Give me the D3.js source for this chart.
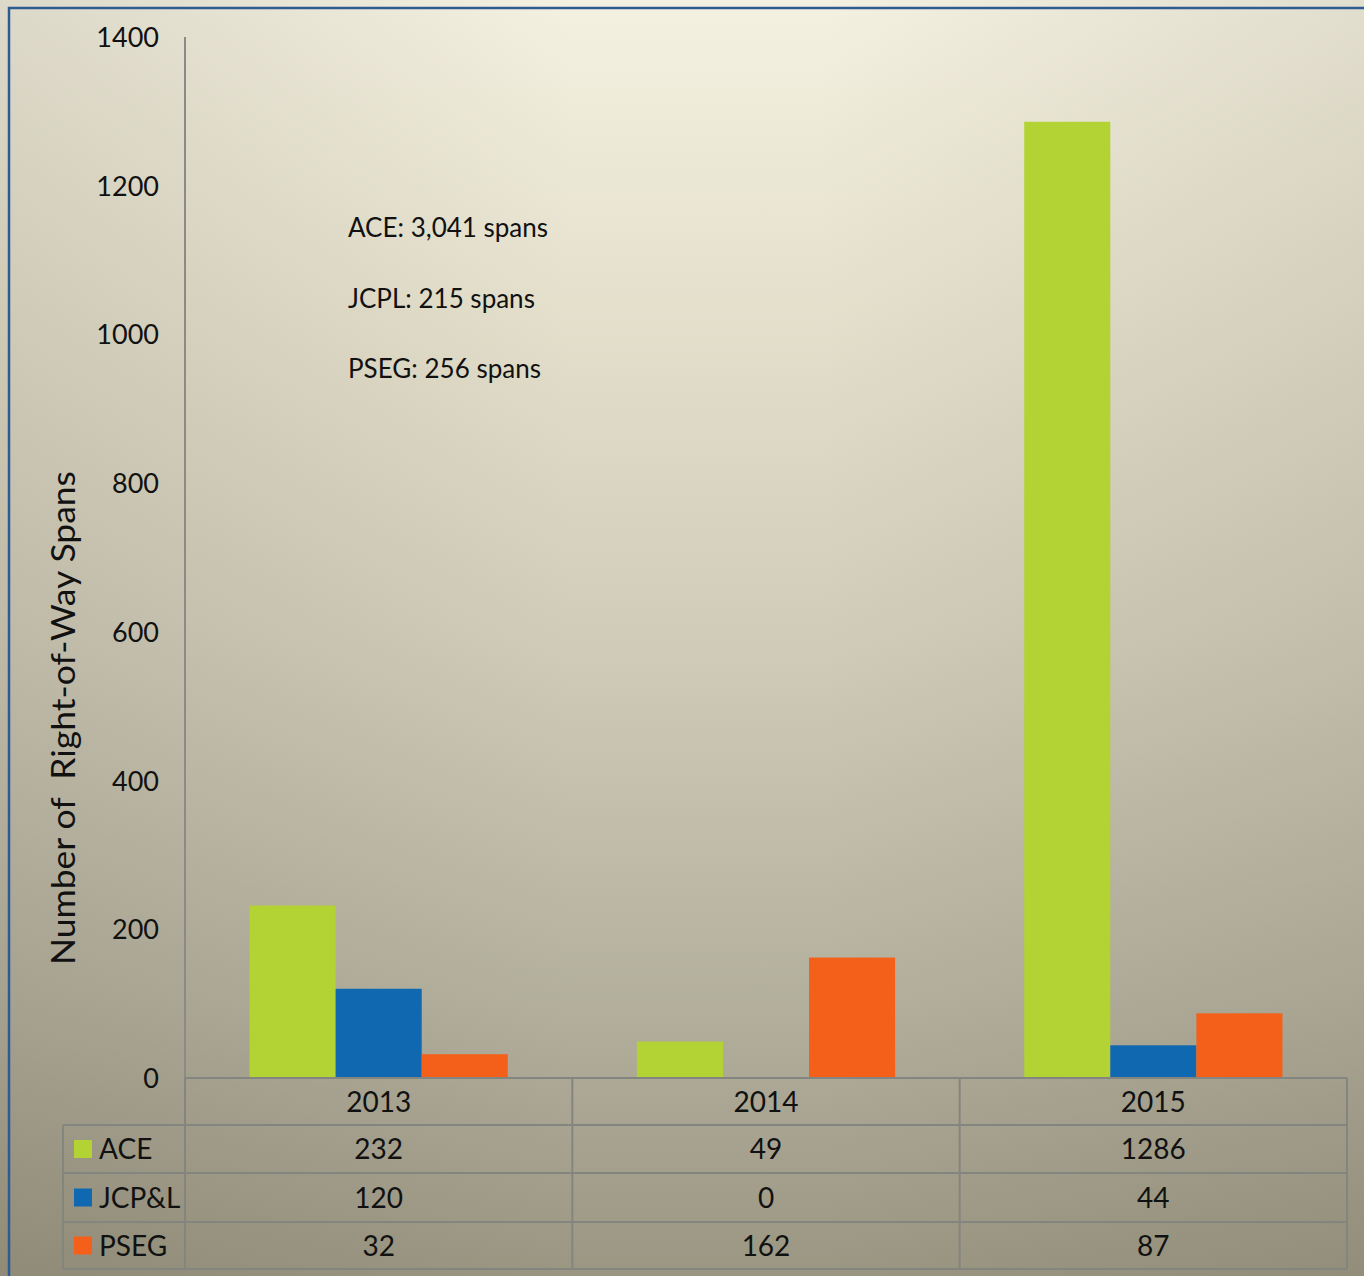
<!DOCTYPE html>
<html><head><meta charset="utf-8">
<script src="https://cdn.jsdelivr.net/npm/d3@7"></script>
<style>html,body{margin:0;padding:0;overflow:hidden;}</style>
</head><body>
<script>
const years = ["2013", "2014", "2015"];
const seriesNames = ["ACE", "JCP&L", "PSEG"];
const aceValues = [232, 49, 1286];
const jcplValues = [120, 0, 44];
const psegValues = [32, 162, 87];
const yTicks = [0, 200, 400, 600, 800, 1000, 1200, 1400];
const notes = ["ACE: 3,041 spans", "JCPL: 215 spans", "PSEG: 256 spans"];
const colors = ["#b3d334", "#1068b0", "#f4601a"];

const series = [aceValues, jcplValues, psegValues];
const W = 1364, H = 1276;
const svg = d3.select("body").append("svg").attr("width", W).attr("height", H);
const defs = svg.append("defs");
const gv = defs.append("linearGradient").attr("id", "bgv").attr("x1", 0).attr("y1", 0).attr("x2", 0).attr("y2", 1);
[[0, "#f4f1e1"], [0.24, "#e4e0cc"], [0.5, "#d0ccb9"], [0.78, "#b4b09e"], [1, "#9a9682"]]
  .forEach(([o, c]) => gv.append("stop").attr("offset", o).attr("stop-color", c));
const gh = defs.append("linearGradient").attr("id", "bgh").attr("x1", 0).attr("y1", 0).attr("x2", 1).attr("y2", 0);
[[0, "#50493a", 0.14], [0.42, "#50493a", 0], [0.6, "#50493a", 0], [1, "#50493a", 0.11]]
  .forEach(([o, c, a]) => gh.append("stop").attr("offset", o).attr("stop-color", c).attr("stop-opacity", a));
svg.append("rect").attr("width", W).attr("height", H).attr("fill", "url(#bgv)");
svg.append("rect").attr("width", W).attr("height", H).attr("fill", "url(#bgh)");

// frame
svg.append("path").attr("d", `M9,${H+5} V8 H${W+5}`).attr("fill", "none")
  .attr("stroke", "#2f5b93").attr("stroke-width", 2.5);

const plotLeft = 185, plotRight = 1347, plotTop = 37, base = 1078;
const x = d3.scaleBand().domain(years).range([plotLeft, plotRight]).paddingInner(1/3).paddingOuter(1/6);
const xCol = d3.scaleBand().domain(years).range([plotLeft, plotRight]);
const xs = d3.scaleBand().domain(seriesNames).range([0, x.bandwidth()]);
const y = d3.scaleLinear().domain([0, 1400]).range([base, plotTop]);

// y axis line
svg.append("line").attr("x1", plotLeft).attr("x2", plotLeft).attr("y1", plotTop).attr("y2", base)
  .attr("stroke", "#8b8a85").attr("stroke-width", 2);

const yAxis = d3.axisLeft(y).tickValues(yTicks).tickSize(0).tickPadding(0).tickFormat(d3.format("d"));
const ga = svg.append("g").attr("transform", `translate(159,0)`).call(yAxis);
ga.select(".domain").remove();
ga.selectAll("text").attr("font-family", "Lato, 'Noto Sans', sans-serif")
  .attr("font-size", 27).attr("fill", "#111").attr("dy", "0.35em");

// y title
svg.append("text").attr("transform", `translate(75,718) rotate(-90)`)
  .attr("text-anchor", "middle").attr("font-family", "Lato, 'Noto Sans', sans-serif")
  .attr("font-size", 32).attr("fill", "#111")
  .attr("textLength", 494).attr("lengthAdjust", "spacingAndGlyphs")
  .style("white-space", "pre")
  .text("Number of  Right-of-Way Spans");

// bars
seriesNames.forEach((s, si) => {
  svg.append("g").selectAll("rect").data(series[si]).join("rect")
    .attr("x", (d, i) => x(years[i]) + xs(s))
    .attr("width", xs.bandwidth())
    .attr("y", d => y(d))
    .attr("height", d => base - y(d))
    .attr("fill", colors[si]);
});

// notes
svg.append("g").selectAll("text").data(notes).join("text")
  .attr("x", 348).attr("y", (d, i) => 237 + i * 70.5)
  .attr("font-family", "Lato, 'Open Sans', sans-serif").attr("font-size", 26).attr("fill", "#111")
  .text(d => d);

// data table
const rowY = [1078, 1125, 1173, 1222, 1269];
const tableLeft = 63;
const grid = svg.append("g").attr("stroke", "#858580").attr("stroke-width", 2).attr("fill", "none");
grid.append("line").attr("x1", plotLeft).attr("x2", plotRight).attr("y1", rowY[0]).attr("y2", rowY[0]);
rowY.slice(1).forEach(r => grid.append("line").attr("x1", tableLeft).attr("x2", plotRight).attr("y1", r).attr("y2", r));
grid.append("line").attr("x1", tableLeft).attr("x2", tableLeft).attr("y1", rowY[1]).attr("y2", rowY[4]);
years.forEach(yr => grid.append("line").attr("x1", xCol(yr)).attr("x2", xCol(yr)).attr("y1", rowY[0]).attr("y2", rowY[4]));
grid.append("line").attr("x1", plotRight).attr("x2", plotRight).attr("y1", rowY[0]).attr("y2", rowY[4]);

const tf = "Lato, 'Open Sans', sans-serif";
svg.append("g").selectAll("text").data(years).join("text")
  .attr("x", d => xCol(d) + xCol.bandwidth() / 2).attr("y", (rowY[0] + rowY[1]) / 2)
  .attr("dy", "0.36em").attr("text-anchor", "middle")
  .attr("font-family", tf).attr("font-size", 28).attr("fill", "#111").text(d => d);

seriesNames.forEach((s, si) => {
  const cy = (rowY[si + 1] + rowY[si + 2]) / 2;
  svg.append("rect").attr("x", 74).attr("y", cy - 9).attr("width", 18).attr("height", 18).attr("fill", colors[si]);
  svg.append("text").attr("x", 99).attr("y", cy).attr("dy", "0.36em")
    .attr("font-family", tf).attr("font-size", 28).attr("fill", "#111").text(s);
  svg.append("g").selectAll("text").data(series[si]).join("text")
    .attr("x", (d, i) => xCol(years[i]) + xCol.bandwidth() / 2).attr("y", cy)
    .attr("dy", "0.36em").attr("text-anchor", "middle")
    .attr("font-family", tf).attr("font-size", 28).attr("fill", "#111").text(d => d);
});
</script>
</body></html>
